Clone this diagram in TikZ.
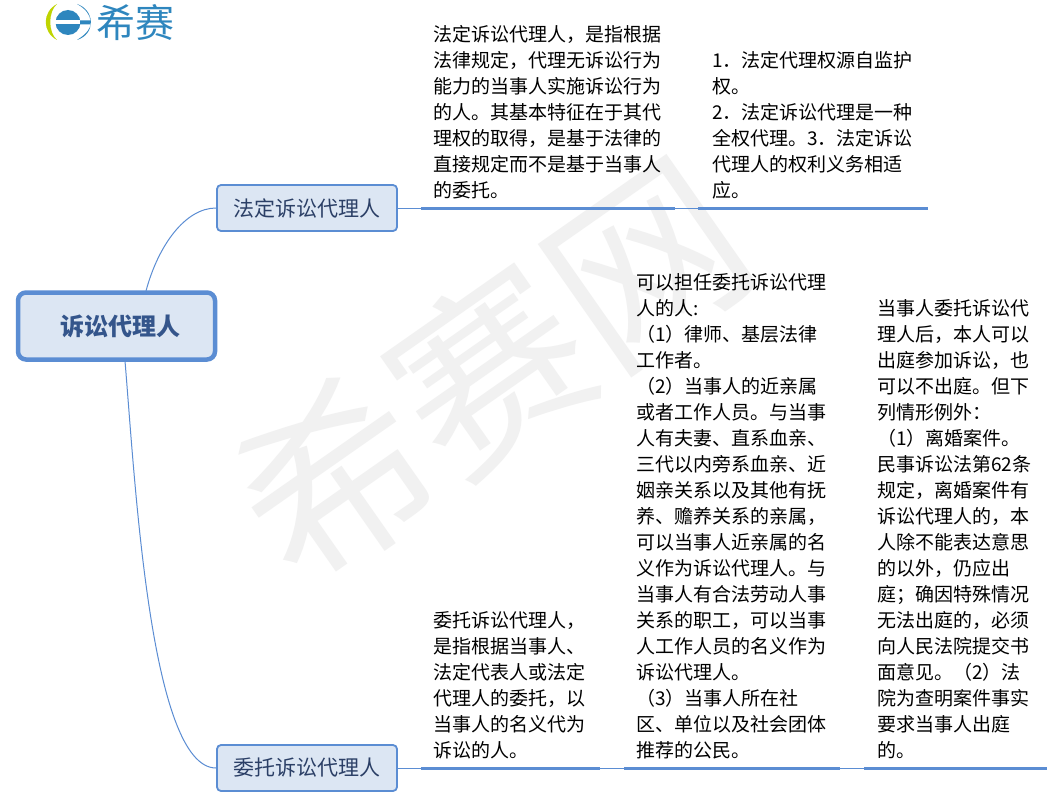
\documentclass[tikz,border=0pt]{standalone}
\usepackage{fontspec}
\setmainfont{Noto Sans CJK SC}
\definecolor{linkblue}{HTML}{5B8DD3}
\definecolor{boxfill}{HTML}{DCE6F3}
\definecolor{rootink}{HTML}{34558B}
\definecolor{subink}{HTML}{2B3F66}
\definecolor{logoblue}{HTML}{2E86BE}
\definecolor{logogreen}{HTML}{BFD400}
\definecolor{wm}{HTML}{F1F1F1}
\tikzset{
  x=1pt,y=-1pt,
  rootbox/.style={draw=linkblue,fill=boxfill,line width=4.5pt,rounded corners=8pt,minimum width=197pt,minimum height=67pt,inner sep=0pt,text=rootink,font=\fontsize{24}{28}\selectfont\bfseries},
  subbox/.style={draw=linkblue,fill=boxfill,line width=1.8pt,rounded corners=4pt,minimum width=180pt,minimum height=46pt,inner sep=0pt,text=subink,font=\fontsize{21}{26}\selectfont},
  para/.style={anchor=north west,inner sep=0pt,align=left,font=\fontsize{19}{26}\selectfont,text=black},
  thinlink/.style={draw=linkblue,line width=1pt},
  thicklink/.style={draw=linkblue,line width=3pt},
  mark text/.style={text=wm,font=\fontsize{190}{190}\selectfont,inner sep=0pt,rotate=35}
}
\begin{document}
\begin{tikzpicture}
\useasboundingbox (0,0) rectangle (1064,808);
\fill[white] (0,0) rectangle (1064,808);
% watermark
\node[mark text] (wm) at (490,370) {希赛网};
% logo
\node[anchor=west,inner sep=0pt,text=logoblue,font=\fontsize{39}{40}\selectfont] (logo) at (96,23) {希赛};
\fill[logogreen] (57,4) .. controls (42,12) and (42,32) .. (57,40) .. controls (48,32) and (48,12) .. cycle;
\fill[logoblue] (68,22.5) circle (12.5);
\fill[white] (54,20.5) rectangle (84,24.5);
\fill[logoblue] (77,4) .. controls (95,10) and (96,34) .. (77,40) .. controls (88,33) and (90,28) .. (90.5,24.5) -- (80,24.5) -- (80,20.5) -- (90.5,20.5) .. controls (90,15) and (86,9) .. cycle;
% root & branches
\node[rootbox] (root) at (116.5,326) {\hspace*{7pt}诉讼代理人};
\node[subbox] (legal) at (307,208) {法定诉讼代理人};
\node[subbox] (entrust) at (307,768) {委托诉讼代理人};
\coordinate (rootN) at (146,291);
\coordinate (rootS) at (125,361);
\draw[thinlink] (rootN) .. controls (158,246) and (185,208) .. (legal.west);
\draw[thinlink] (rootS) .. controls (135,480) and (150,768) .. (entrust.west);
% top rail
\coordinate (t1a) at (421,208.5); \coordinate (t1b) at (675,208.5);
\coordinate (t2a) at (698,208.5); \coordinate (t2b) at (928,208.5);
\draw[thinlink] (legal.east |- t1a) -- (t1a);
\draw[thicklink] (t1a) -- (t1b);
\draw[thinlink] (t1b) -- (t2a);
\draw[thicklink] (t2a) -- (t2b);
% bottom rail
\coordinate (b1a) at (421,768.5); \coordinate (b1b) at (600,768.5);
\coordinate (b2a) at (624,768.5); \coordinate (b2b) at (840,768.5);
\coordinate (b3a) at (864,768.5); \coordinate (b3b) at (1047,768.5);
\draw[thinlink] (entrust.east |- b1a) -- (b1a);
\draw[thicklink] (b1a) -- (b1b);
\draw[thinlink] (b1b) -- (b2a);
\draw[thicklink] (b2a) -- (b2b);
\draw[thinlink] (b2b) -- (b3a);
\draw[thicklink] (b3a) -- (b3b);
% paragraphs
\node[para] (p1) at (433,25) {法定诉讼代理人，是指根据\\法律规定，代理无诉讼行为\\能力的当事人实施诉讼行为\\的人。其基本特征在于其代\\理权的取得，是基于法律的\\直接规定而不是基于当事人\\的委托。};
\node[para] (p2) at (712,51) {1．法定代理权源自监护\\权。\\2．法定诉讼代理是一种\\全权代理。3．法定诉讼\\代理人的权利义务相适\\应。};
\node[para] (p3) at (433,611) {委托诉讼代理人，\\是指根据当事人、\\法定代表人或法定\\代理人的委托，以\\当事人的名义代为\\诉讼的人。};
\node[para] (p4) at (636,273) {可以担任委托诉讼代理\\人的人:\\（1）律师、基层法律\\工作者。\\（2）当事人的近亲属\\或者工作人员。与当事\\人有夫妻、直系血亲、\\三代以内旁系血亲、近\\姻亲关系以及其他有抚\\养、赡养关系的亲属，\\可以当事人近亲属的名\\义作为诉讼代理人。与\\当事人有合法劳动人事\\关系的职工，可以当事\\人工作人员的名义作为\\诉讼代理人。\\（3）当事人所在社\\区、单位以及社会团体\\推荐的公民。};
\node[para] (p5) at (877,299) {当事人委托诉讼代\\理人后，本人可以\\出庭参加诉讼，也\\可以不出庭。但下\\列情形例外：\\（1）离婚案件。\\民事诉讼法第62条\\规定，离婚案件有\\诉讼代理人的，本\\人除不能表达意思\\的以外，仍应出\\庭；确因特殊情况\\无法出庭的，必须\\向人民法院提交书\\面意见。（2）法\\院为查明案件事实\\要求当事人出庭\\的。};
\end{tikzpicture}
\end{document}
